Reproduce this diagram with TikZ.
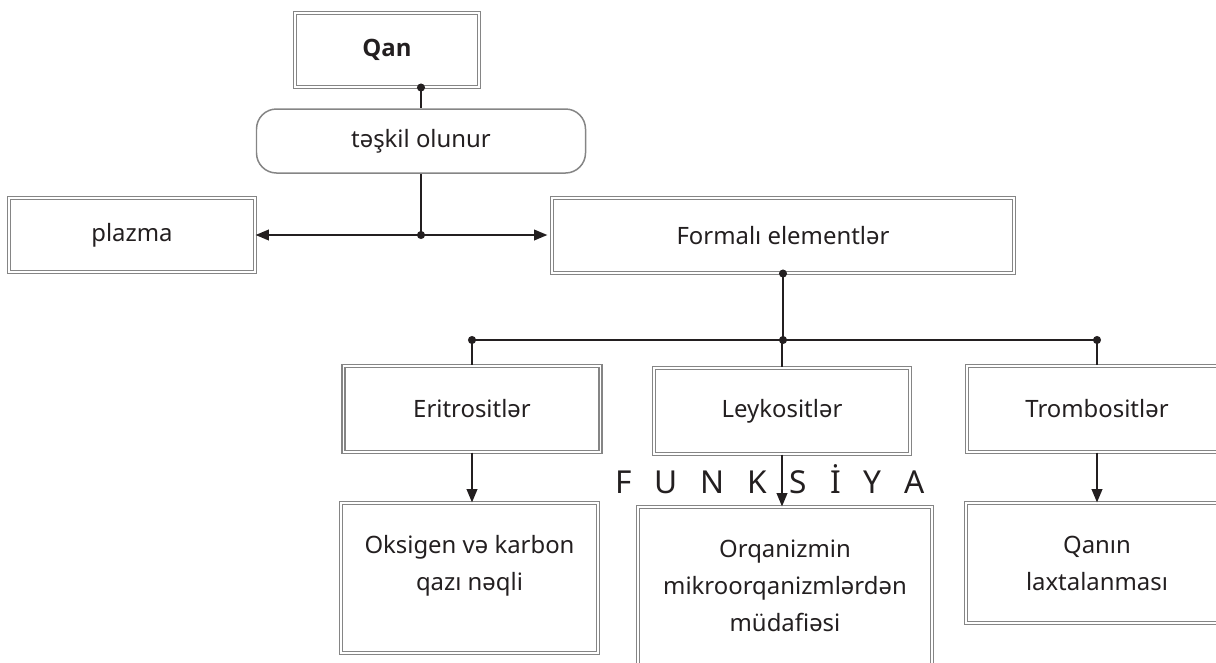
\documentclass[tikz,border=0pt]{standalone}
\usepackage{fontspec}
\setmainfont{Noto Sans}
\newfontfamily\headfont{Open Sans}
\usetikzlibrary{arrows.meta}
\definecolor{ink}{HTML}{231F20}
\definecolor{rim}{HTML}{858585}
\tikzset{
  box/.style={draw=rim,double=white,double distance=1.1pt,line width=.6pt,inner sep=0pt,text=ink},
  oval/.style={draw=rim,line width=.85pt,rounded corners=.4cm,inner sep=0pt,text=ink},
  link/.style={draw=ink,line width=1.15pt},
  arr/.style={link,-{Triangle[length=7.6pt,width=6pt]}},
  txt/.style={text=ink,align=center,inner sep=0pt,anchor=north}
}

\begin{document}
\begin{tikzpicture}[font=\fontsize{13.6}{21}\selectfont]
  \useasboundingbox (0,0) rectangle (24.32,-13.24);
  \clip (0,0) rectangle (24.32,-13.24);
  \node[box,minimum width=3.68cm,minimum height=1.48cm] (Q) at (7.74,-1) {\headfont\bfseries Qan};
  \node[oval,minimum width=6.58cm,minimum height=1.28cm] (T) at (8.42,-2.82) {təşkil olunur};
  \node[box,minimum width=4.92cm,minimum height=1.48cm] (P) at (2.64,-4.7) {plazma};
  \node[box,minimum width=9.24cm,minimum height=1.5cm] (F) at (15.66,-4.71) {Formalı elementlər};
  \node[box,minimum width=5.14cm,minimum height=1.72cm] (E) at (9.44,-8.18) {Eritrositlər};
  \node[box,minimum width=5.12cm,minimum height=1.72cm] (L) at (15.64,-8.22) {Leykositlər};
  \node[box,minimum width=5.2cm,minimum height=1.72cm] (R) at (21.94,-8.18) {Trombositlər};
  \node[box,minimum width=5.14cm,minimum height=3cm] (O) at (9.39,-11.56) {};
  \node[box,minimum width=5.88cm,minimum height=3.32cm] (M) at (15.7,-11.8) {};
  \node[box,minimum width=5.24cm,minimum height=2.4cm] (K) at (21.94,-11.26) {};
  \node[txt] (o) at ([yshift=-.66cm]O.north) {Oksigen və karbon\\qazı nəqli};
  \node[txt] (m) at ([yshift=-.66cm]M.north) {Orqanizmin\\mikroorqanizmlərdən\\müdafiəsi};
  \node[txt] (k) at ([yshift=-.66cm]K.north) {Qanın\\laxtalanması};
  \node[text=ink,anchor=base,inner sep=0pt,font=\fontsize{18}{20}\selectfont] (fn) at (15.4,-9.86)
    {\makebox[6.2cm][s]{F\hfill U\hfill N\hfill K\hfill S\hfill İ\hfill Y\hfill A}};
  \coordinate (q) at (Q.south -| T.north);
  \coordinate (j) at (T.south |- P.east);
  \coordinate (b) at (F.south |- 0,-6.8);
  \draw[link] (q) -- (T.north);
  \draw[link] (T.south) -- (j);
  \draw[arr] (j) -- (P.east);
  \draw[arr,shorten >=2.3pt] (j) -- (j -| F.west);
  \draw[link] (F.south) -- (b);
  \draw[link] (E.north |- b) -- (R.north |- b);
  \foreach \n in {E,L,R}
    \draw[link] (\n.north |- b) -- (\n.north);
  \draw[arr] (E.south) -- (E.south |- O.north);
  \draw[arr] (L.south) -- (L.south |- M.north);
  \draw[arr] (R.south) -- (R.south |- K.north);
  \foreach \p in {q,j,F.south,b,E.north |- b,R.north |- b}
    \fill[ink] (\p) circle (2.3pt);
\end{tikzpicture}
\end{document}
